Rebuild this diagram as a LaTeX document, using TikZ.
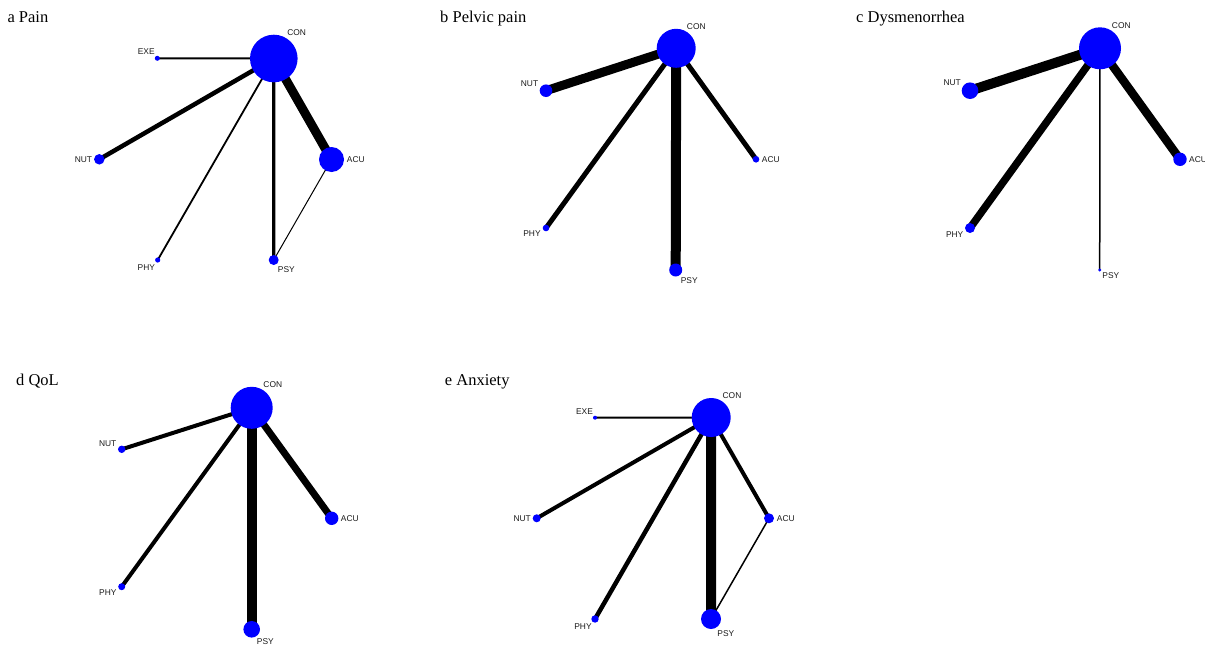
\documentclass[tikz,border=0pt]{standalone}
\usepackage{fontspec}
\newfontfamily\labfam{Liberation Sans}
\newfontfamily\ttlfam{Liberation Serif}
\usetikzlibrary{backgrounds}
\tikzset{
  nd/.style={circle, fill=blue, draw=none, inner sep=0pt},
  lab/.style={font=\labfam\fontsize{8.4}{9}\selectfont, inner sep=0pt, text=black!90},
  ttl/.style={font=\ttlfam\fontsize{16.5}{18}\selectfont, anchor=base west, inner sep=0pt},
  ed/.style={draw=black}
}
\begin{document}
\begin{tikzpicture}[x=1pt, y=-1pt]
\useasboundingbox (0,0) rectangle (1205,648);

% ---------- panel a ----------
\node[ttl] (ta) at (7.3,22.7) {a Pain};
\node[nd, minimum size=47.6pt] (aCON) at (273.8,58.5) {};
\node[nd, minimum size=5pt] (aEXE) at (157.3,58.3) {};
\node[nd, minimum size=10.5pt] (aNUT) at (99.3,159.3) {};
\node[nd, minimum size=25pt] (aACU) at (331.5,159.5) {};
\node[nd, minimum size=5.2pt] (aPHY) at (157.7,260) {};
\node[nd, minimum size=10pt] (aPSY) at (273.7,260) {};
\node[lab] (laCON) at (296.7,33) {CON};
\node[lab] (laEXE) at (146.3,52) {EXE};
\node[lab] (laNUT) at (83.5,159.3) {NUT};
\node[lab] (laACU) at (355.8,159.5) {ACU};
\node[lab] (laPHY) at (146.3,267.7) {PHY};
\node[lab] (laPSY) at (286.3,269.3) {PSY};
\begin{pgfonlayer}{background}
\draw[ed, line width=2pt] (aCON.center) -- (aEXE.center);
\draw[ed, line width=4.5pt] (aCON.center) -- (aNUT.center);
\draw[ed, line width=1.8pt] (aCON.center) -- (aPHY.center);
\draw[ed, line width=3.3pt] (aCON.center) -- (aPSY.center);
\draw[ed, line width=9pt] (aCON.center) -- (aACU.center);
\draw[ed, line width=1pt] (aACU.center) -- (aPSY.center);
\end{pgfonlayer}

% ---------- panel b ----------
\node[ttl] (tb) at (440,22.7) {b Pelvic pain};
\node[nd, minimum size=39pt] (bCON) at (676.2,48.3) {};
\node[nd, minimum size=12.6pt] (bNUT) at (546,90.7) {};
\node[nd, minimum size=6.6pt] (bACU) at (756,159.3) {};
\node[nd, minimum size=6.6pt] (bPHY) at (546,228) {};
\node[nd, minimum size=13pt] (bPSY) at (675.7,270) {};
\node[lab] (lbCON) at (696.3,26.7) {CON};
\node[lab] (lbNUT) at (529.5,83.3) {NUT};
\node[lab] (lbACU) at (770.8,159.3) {ACU};
\node[lab] (lbPHY) at (532,234) {PHY};
\node[lab] (lbPSY) at (689.2,281) {PSY};
\begin{pgfonlayer}{background}
\draw[ed, line width=9pt] (bCON.center) -- (bNUT.center);
\draw[ed, line width=5pt] (bCON.center) -- (bPHY.center);
\draw[ed, line width=10pt] (bCON.center) -- (bPSY.center);
\draw[ed, line width=5pt] (bCON.center) -- (bACU.center);
\end{pgfonlayer}

% ---------- panel c ----------
\node[ttl] (tc) at (856,22.7) {c Dysmenorrhea};
\node[nd, minimum size=42pt] (cCON) at (1100,48.3) {};
\node[nd, minimum size=16.6pt] (cNUT) at (970,90.7) {};
\node[nd, minimum size=13.4pt] (cACU) at (1180,159.3) {};
\node[nd, minimum size=10pt] (cPHY) at (970,228) {};
\node[nd, minimum size=3.4pt] (cPSY) at (1099.7,270) {};
\node[lab] (lcCON) at (1121.3,25.3) {CON};
\node[lab] (lcNUT) at (952.2,82.7) {NUT};
\node[lab, anchor=west] (lcACU) at (1189,159.3) {ACU};
\node[lab] (lcPHY) at (954.7,234.3) {PHY};
\node[lab] (lcPSY) at (1110.8,276) {PSY};
\begin{pgfonlayer}{background}
\draw[ed, line width=10pt] (cCON.center) -- (cNUT.center);
\draw[ed, line width=7.5pt] (cCON.center) -- (cPHY.center);
\draw[ed, line width=1.5pt] (cCON.center) -- (cPSY.center);
\draw[ed, line width=8.5pt] (cCON.center) -- (cACU.center);
\end{pgfonlayer}

% ---------- panel d ----------
\node[ttl] (td) at (16,385) {d QoL};
\node[nd, minimum size=42pt] (dCON) at (251.7,407.8) {};
\node[nd, minimum size=7.4pt] (dNUT) at (121.7,449.3) {};
\node[nd, minimum size=13.4pt] (dACU) at (331.7,518.3) {};
\node[nd, minimum size=7pt] (dPHY) at (121.7,586.7) {};
\node[nd, minimum size=16.6pt] (dPSY) at (251.7,629.3) {};
\node[lab] (ldCON) at (272.8,384.3) {CON};
\node[lab] (ldNUT) at (107.7,444) {NUT};
\node[lab] (ldACU) at (349.8,518.3) {ACU};
\node[lab] (ldPHY) at (107.8,592.7) {PHY};
\node[lab] (ldPSY) at (265.3,641.7) {PSY};
\begin{pgfonlayer}{background}
\draw[ed, line width=4pt] (dCON.center) -- (dNUT.center);
\draw[ed, line width=4pt] (dCON.center) -- (dPHY.center);
\draw[ed, line width=10pt] (dCON.center) -- (dPSY.center);
\draw[ed, line width=7pt] (dCON.center) -- (dACU.center);
\end{pgfonlayer}

% ---------- panel e ----------
\node[ttl] (te) at (444.7,385) {e Anxiety};
\node[nd, minimum size=39pt] (eCON) at (711.2,417.5) {};
\node[nd, minimum size=4pt] (eEXE) at (595,417.7) {};
\node[nd, minimum size=8pt] (eNUT) at (536.7,518.3) {};
\node[nd, minimum size=10pt] (eACU) at (769,518.3) {};
\node[nd, minimum size=7.4pt] (ePHY) at (595,619) {};
\node[nd, minimum size=20pt] (ePSY) at (711,619) {};
\node[lab] (leCON) at (732,395.7) {CON};
\node[lab] (leEXE) at (584.5,411.7) {EXE};
\node[lab] (leNUT) at (522.2,518.3) {NUT};
\node[lab] (leACU) at (785.8,518.3) {ACU};
\node[lab] (lePHY) at (583,626.7) {PHY};
\node[lab] (lePSY) at (725.8,633.3) {PSY};
\begin{pgfonlayer}{background}
\draw[ed, line width=2pt] (eCON.center) -- (eEXE.center);
\draw[ed, line width=4pt] (eCON.center) -- (eNUT.center);
\draw[ed, line width=4.5pt] (eCON.center) -- (ePHY.center);
\draw[ed, line width=10pt] (eCON.center) -- (ePSY.center);
\draw[ed, line width=4pt] (eCON.center) -- (eACU.center);
\draw[ed, line width=1.5pt] (eACU.center) -- (ePSY.center);
\end{pgfonlayer}
\end{tikzpicture}
\end{document}
